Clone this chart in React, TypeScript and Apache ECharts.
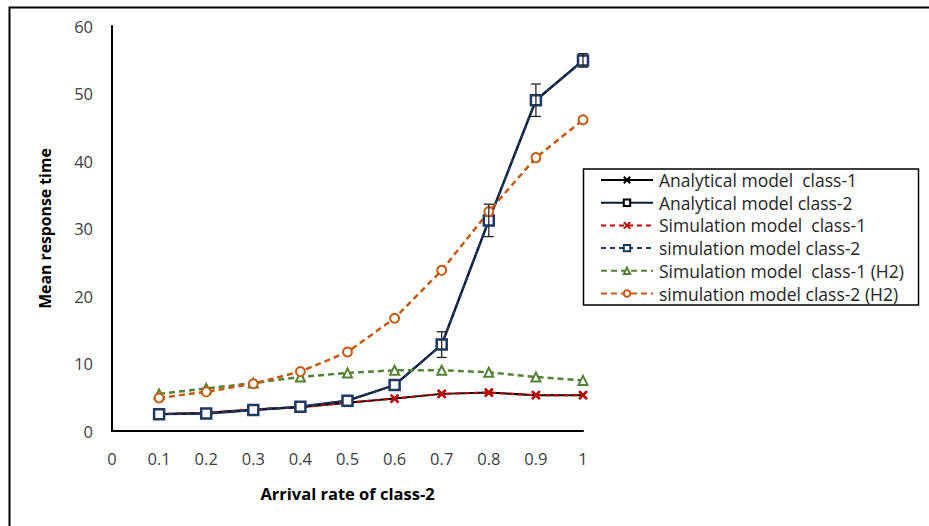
import React, { useEffect, useRef } from "react";
import * as echarts from "echarts";

// Arrival rate of class-2 (x values)
const arrivalRates = [0.1, 0.2, 0.3, 0.4, 0.5, 0.6, 0.7, 0.8, 0.9, 1.0];

// Mean response time per model
const analyticalClass1 = [2.5, 2.7, 3.2, 3.5, 4.2, 4.8, 5.5, 5.7, 5.3, 5.3];
const analyticalClass2 = [2.5, 2.6, 3.1, 3.6, 4.5, 6.8, 12.8, 31.2, 49.0, 54.9];
const simulationClass1 = [2.5, 2.7, 3.2, 3.5, 4.2, 4.8, 5.5, 5.7, 5.3, 5.3];
const simulationClass2 = [2.5, 2.6, 3.1, 3.6, 4.5, 6.8, 12.8, 31.2, 49.0, 54.9];
const simulationClass1H2 = [5.5, 6.3, 7.1, 8.0, 8.6, 9.0, 9.0, 8.7, 8.0, 7.5];
const simulationClass2H2 = [4.9, 5.8, 7.0, 8.8, 11.7, 16.7, 23.8, 32.5, 40.5, 46.1];

// Confidence half-widths for the simulated class-2 response time
const simulationClass2Error = [0, 0, 0, 0, 0, 0, 1.9, 2.4, 2.4, 1.0];

const seriesNames = [
  "Analytical model  class-1",
  "Analytical model class-2",
  "Simulation model  class-1",
  "simulation model class-2",
  "Simulation model  class-1 (H2)",
  "simulation model class-2 (H2)",
];

const FONT = "'Open Sans', 'Noto Sans', sans-serif";
const CROSS = "path://M0,0L10,10M10,0L0,10";

const pairs = (ys: number[]) => arrivalRates.map((x, i) => [x, ys[i]]);

export default function App() {
  const ref = useRef<HTMLDivElement>(null);

  useEffect(() => {
    if (!ref.current) return;
    const chart = echarts.init(ref.current, undefined, { renderer: "svg" });

    const errorData = arrivalRates.map((x, i) => [
      x,
      simulationClass2[i] - simulationClass2Error[i],
      simulationClass2[i] + simulationClass2Error[i],
    ]);

    chart.setOption({
      animation: false,
      backgroundColor: "#ffffff",
      grid: { left: 112, right: 346, top: 26, bottom: 95 },
      xAxis: {
        type: "value",
        min: 0,
        max: 1,
        interval: 0.1,
        name: "Arrival rate of class-2",
        nameLocation: "middle",
        nameGap: 54,
        nameTextStyle: { fontFamily: FONT, fontSize: 16.5, fontWeight: "bold", color: "#000" },
        axisLine: { show: true, lineStyle: { color: "#000", width: 2 } },
        axisTick: { show: false },
        splitLine: { show: false },
        axisLabel: {
          fontFamily: FONT,
          fontSize: 16.5,
          color: "#404040",
          margin: 19,
          formatter: (v: number) => String(Math.round(v * 10) / 10),
        },
      },
      yAxis: {
        type: "value",
        min: 0,
        max: 60,
        interval: 10,
        name: "Mean response time",
        nameLocation: "middle",
        nameGap: 59,
        nameTextStyle: { fontFamily: FONT, fontSize: 15.8, fontWeight: "bold", color: "#000" },
        axisLine: { show: true, lineStyle: { color: "#000", width: 2 } },
        axisTick: { show: false },
        splitLine: { show: false },
        axisLabel: { fontFamily: FONT, fontSize: 16.5, color: "#404040", margin: 19 },
      },
      legend: {
        orient: "vertical",
        left: 600,
        top: 169,
        padding: 0,
        itemWidth: 52,
        itemHeight: 8,
        itemGap: 0.7,
        align: "left",
        textStyle: { fontFamily: FONT, fontSize: 17.5, color: "#262626", lineHeight: 22, padding: [0, 0, 0, 1] },
        data: seriesNames,
      },
      graphic: [
        {
          type: "rect",
          left: 7,
          top: 5,
          shape: { x: 0, y: 0, width: 960, height: 560 },
          style: { fill: "none", stroke: "#000", lineWidth: 2 },
          silent: true,
          z: -10,
        },
        {
          type: "rect",
          shape: { x: 583.5, y: 169, width: 335, height: 136 },
          style: { fill: "#fff", stroke: "#000", lineWidth: 1.5 },
          silent: true,
          z: 0,
        },
      ],
      series: [
        {
          name: seriesNames[0],
          type: "line",
          data: pairs(analyticalClass1),
          symbol: CROSS,
          symbolSize: 7,
          lineStyle: { color: "#000", width: 2 },
          itemStyle: { color: "#000", borderColor: "#000", borderWidth: 2 },
          z: 2,
        },
        {
          name: seriesNames[1],
          type: "line",
          data: pairs(analyticalClass2),
          symbol: "rect",
          symbolSize: 9,
          lineStyle: { color: "#0d1a33", width: 2.5 },
          itemStyle: { color: "#fff", borderColor: "#000", borderWidth: 2 },
          z: 2,
        },
        {
          name: seriesNames[2],
          type: "line",
          data: pairs(simulationClass1),
          symbol: CROSS,
          symbolSize: 8,
          lineStyle: { color: "#c00000", width: 2, type: [5, 4] },
          itemStyle: { color: "#c00000", borderColor: "#c00000", borderWidth: 2.5 },
          z: 3,
        },
        {
          name: seriesNames[3],
          type: "line",
          data: pairs(simulationClass2),
          symbol: "rect",
          symbolSize: 10,
          lineStyle: { color: "#1f3864", width: 2, type: [5, 4] },
          itemStyle: { color: "#fff", borderColor: "#1f3864", borderWidth: 2.5 },
          z: 3,
        },
        {
          name: seriesNames[4],
          type: "line",
          data: pairs(simulationClass1H2),
          symbol: "triangle",
          symbolSize: 9,
          lineStyle: { color: "#548235", width: 2.5, type: [6, 4] },
          itemStyle: { color: "#fff", borderColor: "#548235", borderWidth: 2 },
          z: 3,
        },
        {
          name: seriesNames[5],
          type: "line",
          data: pairs(simulationClass2H2),
          symbol: "circle",
          symbolSize: 9,
          lineStyle: { color: "#c55a11", width: 2.5, type: [6, 4] },
          itemStyle: { color: "#fff", borderColor: "#c55a11", borderWidth: 2 },
          z: 3,
        },
        {
          name: "error",
          type: "custom",
          data: errorData,
          z: 4,
          renderItem: (_params: any, api: any) => {
            const x = api.value(0);
            const lo = api.value(1);
            const hi = api.value(2);
            if (hi - lo <= 0) return null;
            const p1 = api.coord([x, hi]);
            const p2 = api.coord([x, lo]);
            const cap = 5;
            const style = { stroke: "#262626", lineWidth: 1.3 };
            return {
              type: "group",
              children: [
                { type: "line", shape: { x1: p1[0], y1: p1[1], x2: p2[0], y2: p2[1] }, style },
                { type: "line", shape: { x1: p1[0] - cap, y1: p1[1], x2: p1[0] + cap, y2: p1[1] }, style },
                { type: "line", shape: { x1: p2[0] - cap, y1: p2[1], x2: p2[0] + cap, y2: p2[1] }, style },
              ],
            };
          },
        },
      ],
    });

    return () => chart.dispose();
  }, []);

  return (
    <div
      ref={ref}
      style={{ position: "fixed", left: 0, top: 0, width: 929, height: 526 }}
    />
  );
}
